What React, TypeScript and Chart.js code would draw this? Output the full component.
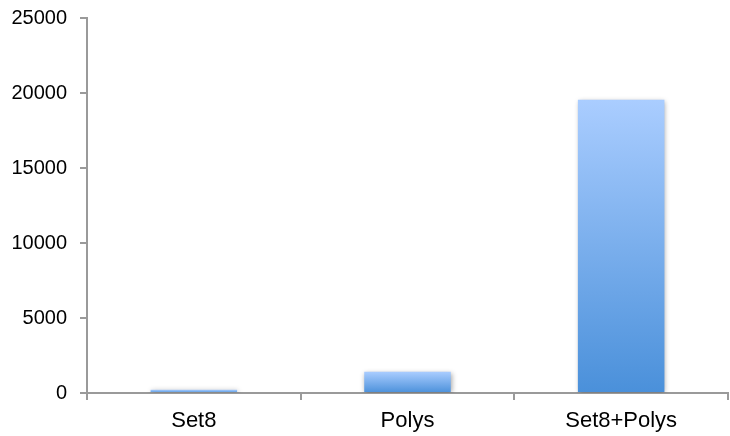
import React, { useEffect, useRef } from "react";
import { Chart, registerables } from "chart.js";

Chart.register(...registerables);

const categories: string[] = ["Set8", "Polys", "Set8+Polys"];
const values: number[] = [220, 1420, 19550];
const yTicks: number[] = [0, 5000, 10000, 15000, 20000, 25000];

const AXIS_COLOR = "#9a9a9a";
const FONT = "'Liberation Sans', Arial, Helvetica, sans-serif";

export default function App() {
  const ref = useRef<HTMLCanvasElement | null>(null);

  useEffect(() => {
    if (!ref.current) return;
    const shadowPlugin = {
      id: "barShadow",
      beforeDatasetDraw(chart: any) {
        const c = chart.ctx;
        c.save();
        c.shadowColor = "rgba(0,0,0,0.35)";
        c.shadowBlur = 5;
        c.shadowOffsetX = 1;
        c.shadowOffsetY = 1;
      },
      afterDatasetDraw(chart: any) {
        chart.ctx.restore();
      },
    };
    const chart = new Chart(ref.current, {
      type: "bar",
      data: {
        labels: categories,
        datasets: [
          {
            data: values,
            borderWidth: 0,
            categoryPercentage: 1,
            barPercentage: 0.405,
            backgroundColor: (ctx: any) => {
              const ch = ctx.chart;
              if (!ch.chartArea || ctx.type !== "data") return "#7aaef0";
              const y = ch.scales.y;
              const top = y.getPixelForValue(ctx.raw as number);
              const bottom = y.getPixelForValue(0);
              const g = ch.ctx.createLinearGradient(0, top, 0, bottom);
              g.addColorStop(0, "#aacdff");
              g.addColorStop(1, "#4a90da");
              return g;
            },
          },
        ],
      },
      options: {
        animation: false,
        responsive: true,
        maintainAspectRatio: false,
        layout: { padding: { top: 18, right: 2, left: 0, bottom: 0 } },
        plugins: {
          legend: { display: false },
          tooltip: { enabled: false },
        },
        scales: {
          x: {
            offset: true,
            grid: {
              display: true,
              drawOnChartArea: false,
              drawTicks: true,
              tickLength: 7,
              offset: true,
              color: AXIS_COLOR,
              lineWidth: 2,
            },
            border: { display: true, color: AXIS_COLOR, width: 2 },
            ticks: {
              color: "#000",
              padding: 8,
              font: { family: FONT, size: 22 },
            },
            afterFit: (s: any) => {
              s.height = 43;
              s.paddingLeft = 0;
              s.paddingRight = 0;
            },
          },
          y: {
            min: 0,
            max: 25000,
            afterBuildTicks: (s: any) => {
              s.ticks = yTicks.map((v) => ({ value: v }));
            },
            grid: {
              display: true,
              drawOnChartArea: false,
              drawTicks: true,
              tickLength: 7,
              color: AXIS_COLOR,
              lineWidth: 2,
            },
            border: { display: true, color: AXIS_COLOR, width: 2 },
            ticks: {
              color: "#000",
              padding: 13,
              font: { family: FONT, size: 20 },
              callback: (v: any) => String(v),
            },
            afterFit: (s: any) => {
              s.width = 87;
              s.paddingTop = 0;
              s.paddingBottom = 0;
            },
          },
        },
      },
      plugins: [shadowPlugin],
    });
    return () => chart.destroy();
  }, []);

  return (
    <div style={{ position: "absolute", left: 0, top: 0, width: 730, height: 436 }}>
      <canvas ref={ref} />
    </div>
  );
}
